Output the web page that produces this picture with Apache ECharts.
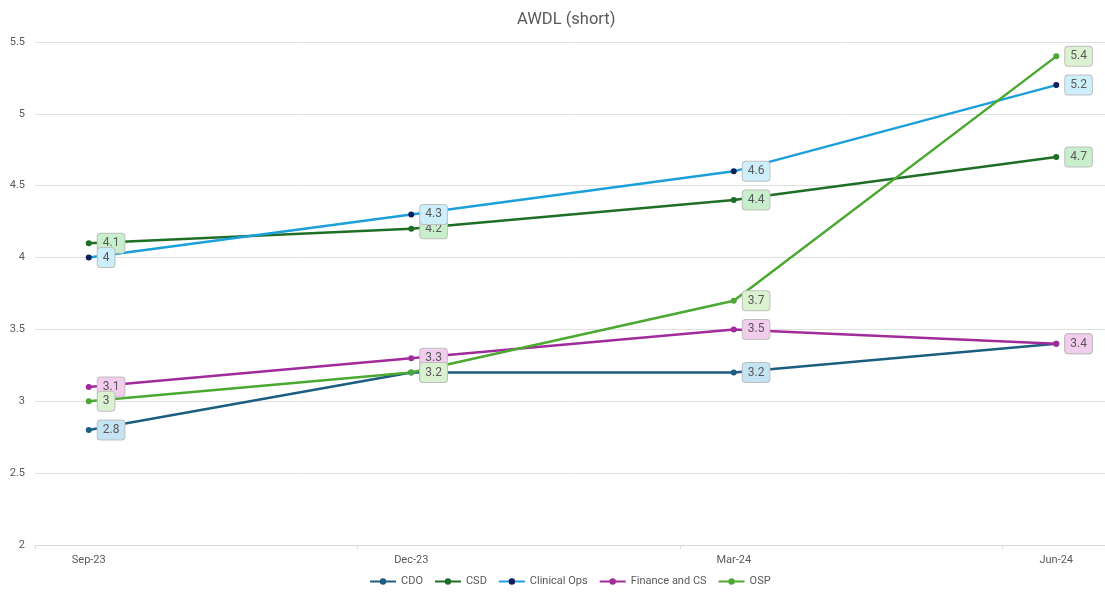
<!DOCTYPE html>
<html>
<head>
<meta charset="utf-8">
<title>AWDL (short)</title>
<script src="https://cdn.jsdelivr.net/npm/echarts@6/dist/echarts.min.js"></script>
<style>
  html, body { margin: 0; padding: 0; background: #fff; overflow: hidden; }
  #chart { width: 1112px; height: 594px; }
</style>
</head>
<body>
<div id="chart"></div>
<script>
// months on the date axis, one category per month
var months = ['Sep-23', 'Oct-23', 'Nov-23', 'Dec-23', 'Jan-24', 'Feb-24', 'Mar-24', 'Apr-24', 'May-24', 'Jun-24'];
// months that have a reading
var quarters = ['Sep-23', 'Dec-23', 'Mar-24', 'Jun-24'];

var cdo = [2.8, 3.2, 3.2, 3.4];
var csd = [4.1, 4.2, 4.4, 4.7];
var clinicalOps = [4.0, 4.3, 4.6, 5.2];
var financeCs = [3.1, 3.3, 3.5, 3.4];
var osp = [3.0, 3.2, 3.7, 5.4];

var yTicks = [2, 2.5, 3, 3.5, 4, 4.5, 5, 5.5];

// put the quarterly values at their month, empty elsewhere
function toMonths(vals) {
  var out = months.map(function () { return null; });
  quarters.forEach(function (q, i) {
    out[months.indexOf(q)] = vals[i];
  });
  return out;
}

function makeSeries(name, vals, lineColor, dotColor, boxColor) {
  return {
    name: name,
    type: 'line',
    data: toMonths(vals),
    connectNulls: true,
    symbol: 'circle',
    symbolSize: 6,
    lineStyle: { color: lineColor, width: 2.5 },
    itemStyle: { color: dotColor },
    label: {
      show: true,
      position: 'right',
      distance: 6,
      color: '#595959',
      fontSize: 12,
      fontFamily: 'Roboto',
      backgroundColor: boxColor,
      borderColor: '#bfbfbf',
      borderWidth: 1,
      borderRadius: 3,
      padding: [4, 5, 3, 5]
    }
  };
}

var myChart = echarts.init(document.getElementById('chart'));

var option = {
  animation: false,
  title: {
    text: 'AWDL (short)',
    left: 512,
    top: 6,
    textStyle: { color: '#595959', fontSize: 16.5, fontWeight: 'normal', fontFamily: 'Roboto' }
  },
  legend: {
    bottom: 2,
    left: 364,
    itemWidth: 26,
    itemHeight: 8,
    itemGap: 11,
    textStyle: { color: '#595959', fontSize: 11, fontFamily: 'Roboto' },
    data: ['CDO', 'CSD', 'Clinical Ops', 'Finance and CS', 'OSP']
  },
  grid: { left: 35, right: 2, top: 42, bottom: 49, containLabel: false },
  xAxis: {
    type: 'category',
    data: months,
    boundaryGap: true,
    axisLine: { lineStyle: { color: '#d9d9d9' } },
    axisTick: { show: true, interval: 2, length: 4, lineStyle: { color: '#d9d9d9' } },
    axisLabel: { interval: 2, color: '#595959', fontSize: 11, fontFamily: 'Roboto', margin: 10 }
  },
  yAxis: {
    type: 'value',
    min: yTicks[0],
    max: yTicks[yTicks.length - 1],
    interval: 0.5,
    axisLine: { show: false },
    axisTick: { show: false },
    splitLine: { lineStyle: { color: '#e0e0e0' } },
    axisLabel: { color: '#595959', fontSize: 11, fontFamily: 'Roboto', margin: 10 }
  },
  series: [
    makeSeries('CDO', cdo, '#1b5e80', '#1b5e80', '#c5e4f3'),
    makeSeries('CSD', csd, '#1f6e25', '#1f6e25', '#c8efcb'),
    makeSeries('Clinical Ops', clinicalOps, '#1ca0dc', '#0b1f5a', '#cdeefb'),
    makeSeries('Finance and CS', financeCs, '#a12b9b', '#a12b9b', '#f2cdee'),
    makeSeries('OSP', osp, '#4ba830', '#4ba830', '#daf2d0')
  ]
};

myChart.setOption(option);
</script>
</body>
</html>
